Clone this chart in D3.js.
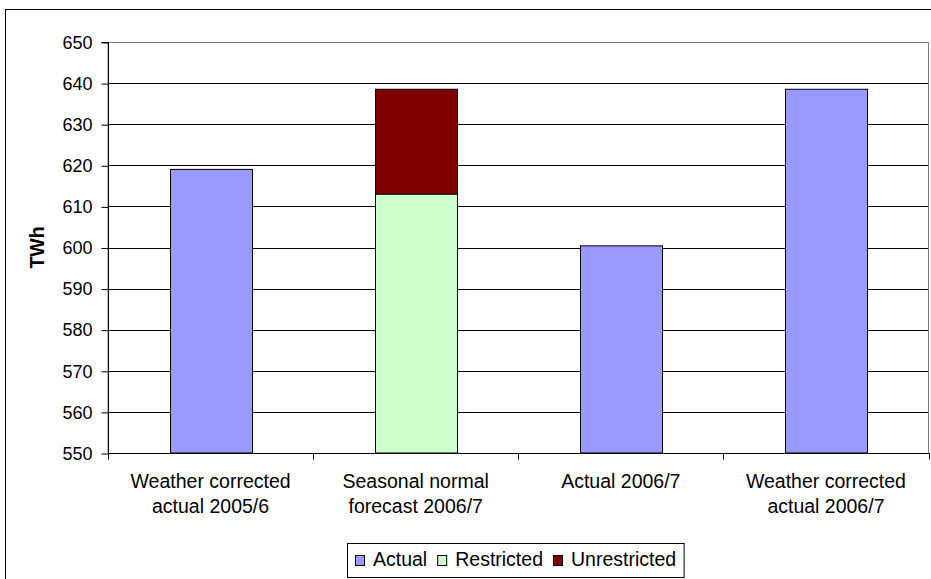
<!DOCTYPE html>
<html>
<head>
<meta charset="utf-8">
<script src="https://cdn.jsdelivr.net/npm/d3@7"></script>
<style>
  html, body { margin: 0; padding: 0; background: #fff; overflow: hidden; }
  svg { display: block; font-family: "Liberation Sans", Arial, sans-serif; }
</style>
</head>
<body>
<svg id="chart" width="931" height="579"></svg>
<script>
// Electricity demand, TWh
const categories = [
  ["Weather corrected", "actual 2005/6"],
  ["Seasonal normal", "forecast 2006/7"],
  ["Actual 2006/7"],
  ["Weather corrected", "actual 2006/7"]
];
const seriesNames = ["Actual", "Restricted", "Unrestricted"];
const actual       = [619.0, 0, 600.4, 638.5];
const restricted   = [0, 613.0, 0, 0];
const unrestricted = [0, 25.5, 0, 0];
const yTicks = [550, 560, 570, 580, 590, 600, 610, 620, 630, 640, 650];
const colors = ["#9999FF", "#CCFFCC", "#800000"];

const svg = d3.select("#chart");
const plot = { left: 108, right: 928.5, top: 42, bottom: 453 };

// Outer chart frame (extends past the right/bottom edge of the view)
svg.append("rect")
  .attr("x", 5.5).attr("y", 9.5)
  .attr("width", 940).attr("height", 590)
  .attr("fill", "#fff").attr("stroke", "#000").attr("stroke-width", 1);

const x = d3.scaleBand()
  .domain(d3.range(categories.length))
  .range([plot.left, plot.right])
  .padding(0);

const y = d3.scaleLinear()
  .domain([550, 650])
  .range([plot.bottom, plot.top]);

// Gridlines
svg.append("g")
  .selectAll("line")
  .data(yTicks.slice(1, -1))
  .join("line")
  .attr("x1", plot.left).attr("x2", plot.right)
  .attr("y1", d => Math.round(y(d)) + 0.5)
  .attr("y2", d => Math.round(y(d)) + 0.5)
  .attr("stroke", "#000").attr("stroke-width", 1);

// Plot area border
svg.append("rect")
  .attr("x", plot.left).attr("y", Math.round(plot.top) + 0.5)
  .attr("width", plot.right - plot.left)
  .attr("height", plot.bottom - plot.top)
  .attr("fill", "none").attr("stroke", "#808080").attr("stroke-width", 1);

// Stacked bars
const table = categories.map((c, i) => ({
  i,
  Actual: actual[i],
  Restricted: restricted[i],
  Unrestricted: unrestricted[i]
}));
const stack = d3.stack().keys(seriesNames)
  .offset(() => {})
  .value((d, k) => d[k]);
const layers = stack(table);
// Stack baseline: each bar starts from the axis minimum
layers.forEach((layer, li) => {
  layer.forEach((p, j) => {
    const below = li === 0 ? 0 : layers[li - 1][j][1];
    p[0] = below;
    p[1] = below + p.data[seriesNames[li]];
  });
});

const barW = x.bandwidth() / 2.5;
const barsG = svg.append("g");
layers.forEach((layer, li) => {
  barsG.append("g")
    .selectAll("rect")
    .data(layer.filter(p => p[1] - p[0] > 0))
    .join("rect")
    .attr("x", p => Math.round(x(p.data.i) + (x.bandwidth() - barW) / 2) + 0.5)
    .attr("width", Math.round(barW))
    .attr("y", p => y(p[1]))
    .attr("height", p => y(Math.max(p[0], 550)) - y(p[1]))
    .attr("fill", colors[li])
    .attr("stroke", "#000")
    .attr("stroke-width", 1);
});

// Y axis
const yAxis = d3.axisLeft(y)
  .tickValues(yTicks)
  .tickSize(7)
  .tickPadding(9)
  .tickFormat(d3.format("d"));
const yG = svg.append("g")
  .attr("transform", `translate(${plot.left + 0.5},0.5)`)
  .call(yAxis);
yG.select(".domain").attr("stroke", "#000").attr("d", `M-7,${y(650)}H0V${y(550)}`);
yG.selectAll(".tick line").attr("stroke", "#000");
yG.selectAll(".tick text")
  .attr("fill", "#000")
  .style("font-size", "18px")
  .style("font-family", "'Liberation Sans', Arial, sans-serif");

// X axis
const xAxis = d3.axisBottom(x).tickSize(0).tickFormat("");
const xG = svg.append("g")
  .attr("transform", `translate(0,${plot.bottom + 0.5})`)
  .call(xAxis);
xG.select(".domain").attr("stroke", "#000").attr("d", `M${plot.left},0H${plot.right + 1}`);
xG.selectAll(".tick").remove();
// Category separators
xG.selectAll("line.sep")
  .data(d3.range(categories.length + 1))
  .join("line")
  .attr("class", "sep")
  .attr("x1", i => Math.round(plot.left + i * x.step()) + 0.5)
  .attr("x2", i => Math.round(plot.left + i * x.step()) + 0.5)
  .attr("y1", 0).attr("y2", 6)
  .attr("stroke", "#000");

// Category labels
const catG = svg.append("g");
categories.forEach((lines, i) => {
  const t = catG.append("text")
    .attr("x", x(i) + x.bandwidth() / 2)
    .attr("y", 488)
    .attr("text-anchor", "middle")
    .style("font-size", "19.5px")
    .attr("fill", "#000");
  lines.forEach((ln, k) => {
    t.append("tspan")
      .attr("x", x(i) + x.bandwidth() / 2)
      .attr("dy", k === 0 ? 0 : 25)
      .text(ln);
  });
});

// Y axis title
svg.append("text")
  .attr("transform", `translate(44,${(plot.top + plot.bottom) / 2}) rotate(-90)`)
  .attr("text-anchor", "middle")
  .style("font-size", "19.5px")
  .style("font-weight", "bold")
  .text("TWh");

// Legend
const legend = svg.append("g");
const legendBox = legend.append("rect")
  .attr("fill", "#fff").attr("stroke", "#000").attr("stroke-width", 1);
let lx = 355;
const items = [];
seriesNames.forEach((name, i) => {
  legend.append("rect")
    .attr("x", lx + 0.5).attr("y", 555.5)
    .attr("width", 9).attr("height", 10)
    .attr("fill", colors[i]).attr("stroke", "#000");
  const tx = legend.append("text")
    .attr("x", lx + 18).attr("y", 566)
    .style("font-size", "19.5px")
    .text(name);
  const w = tx.node().getComputedTextLength();
  lx = lx + 18 + w + 10;
});
legendBox
  .attr("x", 347.5).attr("y", 543.5)
  .attr("width", lx - 10 + 8 - 347.5)
  .attr("height", 34);
</script>
</body>
</html>
